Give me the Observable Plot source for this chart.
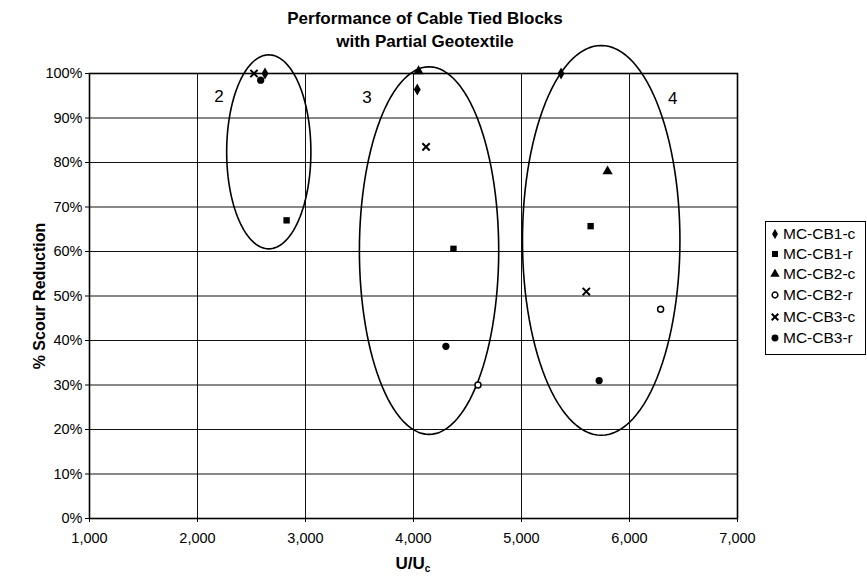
<!DOCTYPE html>
<html>
<head>
<meta charset="utf-8">
<script src="https://cdn.jsdelivr.net/npm/d3@7"></script>
<script src="https://cdn.jsdelivr.net/npm/@observablehq/plot@0.6"></script>
<style>
  body { margin: 0; background: #fff; font-family: "Liberation Sans", Arial, sans-serif; color: #000; }
  #wrap { position: relative; width: 867px; height: 578px; overflow: hidden; }
  #chart { position: absolute; left: 0; top: 0; }
  .title { position: absolute; left: 0; width: 850px; text-align: center; font-weight: bold; font-size: 17px; line-height: 20px; }
  .ylab { position: absolute; left: 40px; top: 296px; transform: translate(-50%, -50%) rotate(-90deg); font-weight: bold; font-size: 16px; white-space: nowrap; }
  .xlab { position: absolute; left: 413px; top: 564px; transform: translate(-50%, -50%); font-weight: bold; font-size: 17px; white-space: nowrap; }
  .xlab sub { font-size: 10px; vertical-align: -3px; }
  #legend { position: absolute; left: 765px; top: 221px; width: 101px; height: 134px; border: 1px solid #000; box-sizing: border-box; background: #fff; }
  .lg { position: absolute; left: 4px; height: 20px; display: flex; align-items: center; font-size: 15.5px; white-space: nowrap; }
  .lg svg { margin-right: 3px; }
</style>
</head>
<body>
<div id="wrap">
  <div id="chart"></div>
  <div class="title" style="top:9px">Performance of Cable Tied Blocks</div>
  <div class="title" style="top:32px">with Partial Geotextile</div>
  <div class="ylab">% Scour Reduction</div>
  <div class="xlab">U/U<sub>c</sub></div>
  <div id="legend"></div>
</div>
<script>
// ---- data ----
const seriesNames = ["MC-CB1-c", "MC-CB1-r", "MC-CB2-c", "MC-CB2-r", "MC-CB3-c", "MC-CB3-r"];
const cb1cX = [2625, 4035, 5366];  const cb1cY = [100, 96.4, 100];
const cb1rX = [2825, 4370, 5640];  const cb1rY = [67, 60.6, 65.7];
const cb2cX = [4047, 5797];        const cb2cY = [100.5, 78];
const cb2rX = [4597, 6288];        const cb2rY = [30, 47];
const cb3cX = [2523, 4116, 5600];  const cb3cY = [100, 83.5, 51];
const cb3rX = [2585, 4300, 5719];  const cb3rY = [98.5, 38.7, 31];

const xTicks = [1000, 2000, 3000, 4000, 5000, 6000, 7000];
const yTicks = [0, 10, 20, 30, 40, 50, 60, 70, 80, 90, 100];

// group annotations (ellipses) in data units
const groupLabels = ["2", "3", "4"];
const groupLabelX = [2200, 3570, 6400];
const groupLabelY = [94.8, 94.6, 94.4];
const ellipseCx = [2660, 4144, 5738];
const ellipseCy = [82.4, 60.2, 62.5];
const ellipseRx = [390, 645, 729];
const ellipseRy = [21.8, 41.3, 43.8];

// ---- build ----
const pts = (xs, ys) => xs.map((x, i) => ({x, y: ys[i]}));
const ellipsePts = [];
ellipseCx.forEach((cx, g) => {
  const n = 120;
  for (let i = 0; i <= n; i++) {
    const t = 2 * Math.PI * i / n;
    ellipsePts.push({g, x: cx + ellipseRx[g] * Math.cos(t), y: ellipseCy[g] + ellipseRy[g] * Math.sin(t)});
  }
});
const labels = groupLabels.map((t, i) => ({t, x: groupLabelX[i], y: groupLabelY[i]}));

const chart = Plot.plot({
  width: 867,
  height: 578,
  marginLeft: 89,
  marginRight: 130,
  marginTop: 73,
  marginBottom: 60,
  style: {fontFamily: '"Liberation Sans", Arial, sans-serif', fontSize: "14.5px", color: "#000", background: "transparent"},
  x: {domain: [1000, 7000], label: null},
  y: {domain: [0, 100], label: null},
  marks: [
    Plot.ruleX(xTicks, {stroke: "#111", strokeWidth: 1}),
    Plot.ruleY(yTicks, {stroke: "#111", strokeWidth: 1}),
    Plot.frame({stroke: "#000", strokeWidth: 1.6}),
    Plot.axisX({ticks: xTicks, tickFormat: d3.format(","), tickSize: 4, tickPadding: 10, fontSize: 14.5, label: null}),
    Plot.axisY({ticks: yTicks, tickFormat: d => d + "%", tickSize: 4, tickPadding: 3, fontSize: 14.5, label: null}),
    Plot.line(ellipsePts, {x: "x", y: "y", z: "g", stroke: "#000", strokeWidth: 1.6, curve: "linear"}),
    Plot.text(labels, {x: "x", y: "y", text: "t", fontSize: 17, fill: "#000"}),
    Plot.dot(pts(cb1cX, cb1cY), {x: "x", y: "y", symbol: "diamond", r: 3.6, fill: "#000"}),
    Plot.dot(pts(cb1rX, cb1rY), {x: "x", y: "y", symbol: "square", r: 3.6, fill: "#000"}),
    Plot.dot(pts(cb2cX, cb2cY), {x: "x", y: "y", symbol: "triangle", r: 3.8, fill: "#000"}),
    Plot.dot(pts(cb2rX, cb2rY), {x: "x", y: "y", symbol: "circle", r: 3, fill: "#fff", stroke: "#000", strokeWidth: 1.5}),
    Plot.dot(pts(cb3cX, cb3cY), {x: "x", y: "y", symbol: "times", r: 3.4, stroke: "#000", strokeWidth: 2}),
    Plot.dot(pts(cb3rX, cb3rY), {x: "x", y: "y", symbol: "circle", r: 3.6, fill: "#000"})
  ]
});
document.getElementById("chart").appendChild(chart);

// ---- legend ----
const legendSymbols = [
  {type: d3.symbolDiamond, size: 30, fill: "#000", stroke: "none", sw: 0},
  {type: d3.symbolSquare, size: 36, fill: "#000", stroke: "none", sw: 0},
  {type: d3.symbolTriangle, size: 38, fill: "#000", stroke: "none", sw: 0},
  {type: d3.symbolCircle, size: 26, fill: "#fff", stroke: "#000", sw: 1.5},
  {type: d3.symbolTimes, size: 30, fill: "none", stroke: "#000", sw: 2},
  {type: d3.symbolCircle, size: 38, fill: "#000", stroke: "none", sw: 0}
];
const legend = document.getElementById("legend");
const rowTops = [2, 22, 42, 63, 85, 106];
seriesNames.forEach((name, i) => {
  const s = legendSymbols[i];
  const row = document.createElement("div");
  row.className = "lg";
  row.style.top = rowTops[i] + "px";
  const path = d3.symbol(s.type, s.size)();
  row.innerHTML = `<svg width="10" height="10" viewBox="-5 -5 10 10"><path d="${path}" fill="${s.fill}" stroke="${s.stroke}" stroke-width="${s.sw}"/></svg><span>${name}</span>`;
  legend.appendChild(row);
});
</script>
</body>
</html>
